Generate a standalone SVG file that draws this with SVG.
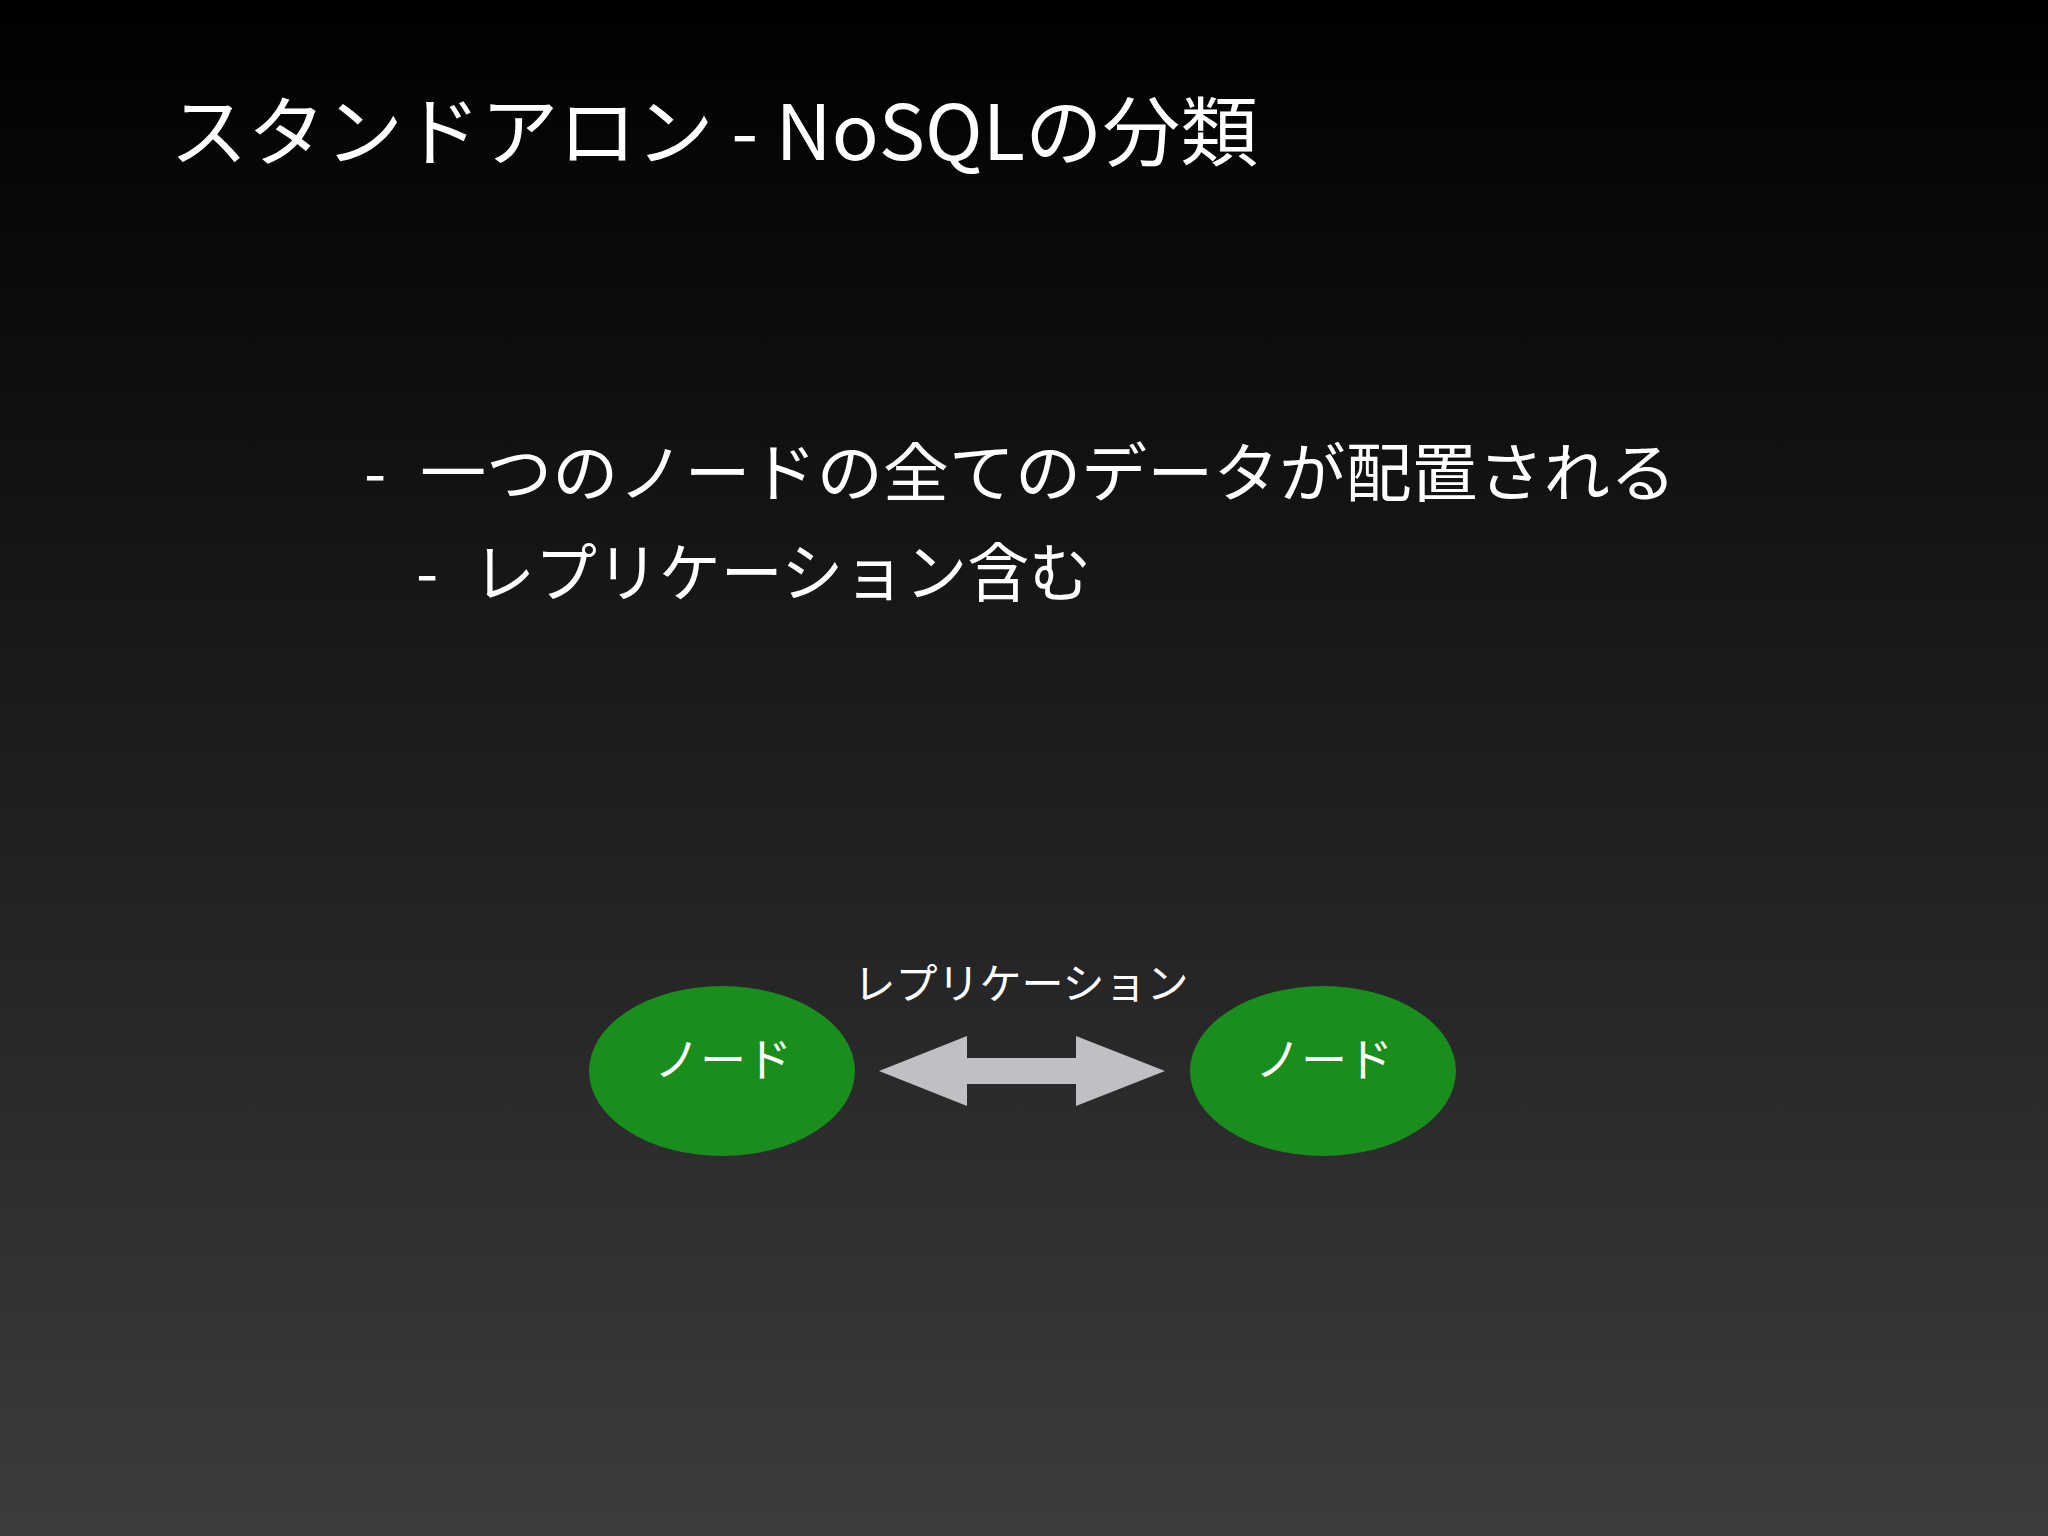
<svg xmlns="http://www.w3.org/2000/svg" width="2048" height="1536" viewBox="0 0 2048 1536">
<defs>
<linearGradient id="bg" x1="0" y1="0" x2="0" y2="1">
<stop offset="0" stop-color="#000000"/>
<stop offset="1" stop-color="#3c3b3d"/>
</linearGradient>
<style>
text{font-family:"Noto Sans CJK JP","Noto Sans",sans-serif;fill:#ffffff;}
.title{font-size:76px;}
.body{font-size:64px;}
.lbl{font-size:42px;}
.nodetxt{font-size:46px;text-anchor:middle;}
.node{fill:#1a8e1c;}
.arrow{fill:#c1bfc3;}
</style>
</defs>
<rect width="2048" height="1536" fill="url(#bg)"/>
<text class="title" x="170" y="160" textLength="1088" lengthAdjust="spacingAndGlyphs">スタンドアロン - NoSQLの分類</text>
<text class="body" y="496"><tspan x="364">-</tspan><tspan x="420" textLength="1256" lengthAdjust="spacingAndGlyphs">一つのノードの全てのデータが配置される</tspan></text>
<text class="body" y="596"><tspan x="416">-</tspan><tspan x="473" textLength="618" lengthAdjust="spacingAndGlyphs">レプリケーション含む</tspan></text>
<g id="node-left">
<ellipse class="node" cx="722" cy="1071" rx="133" ry="85"/>
<text class="nodetxt" x="723" y="1076">ノード</text>
</g>
<g id="node-right">
<ellipse class="node" cx="1323" cy="1071" rx="133" ry="85"/>
<text class="nodetxt" x="1324" y="1076">ノード</text>
</g>
<g id="connectors">
<polygon class="arrow" points="879,1071 967,1036 967,1058 1076,1058 1076,1036 1165,1071 1076,1106 1076,1084 967,1084 967,1106"/>
<text class="lbl" x="1021" y="999" text-anchor="middle">レプリケーション</text>
</g>
</svg>
